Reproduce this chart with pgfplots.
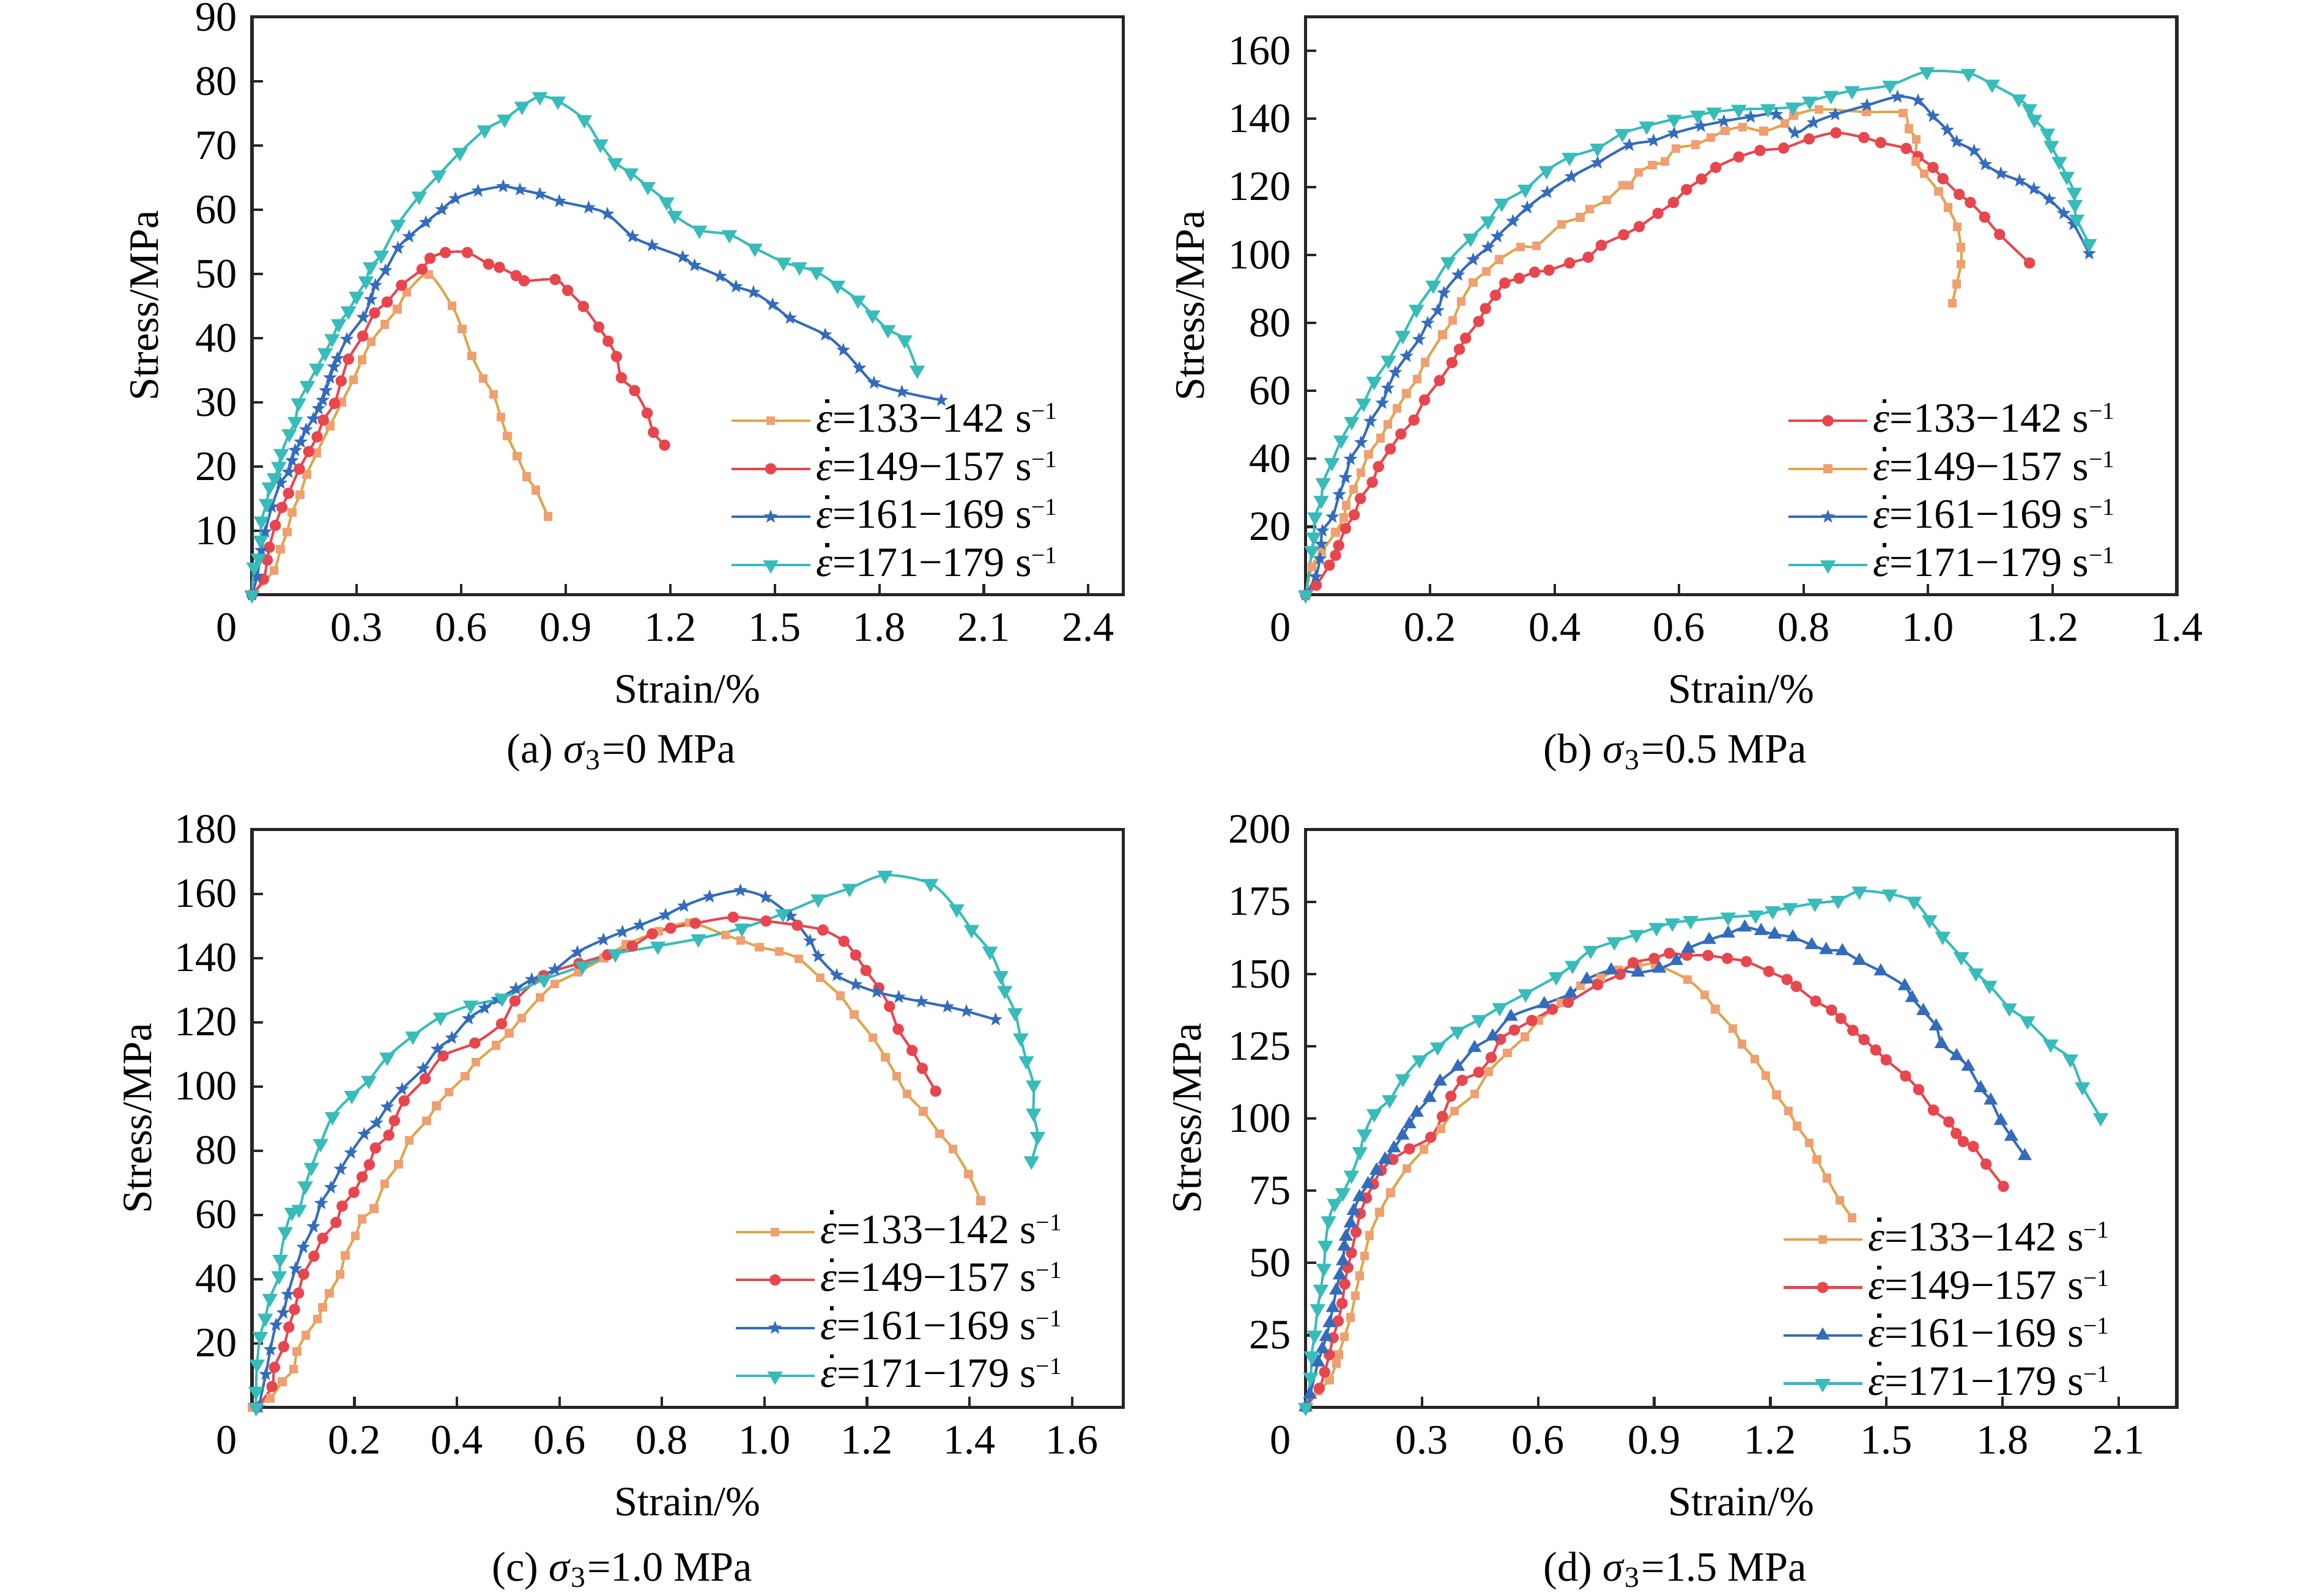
\documentclass[border=0pt]{standalone}
\usepackage{fontspec}
\setmainfont{Liberation Serif}
\usepackage{pgfplots}
\pgfplotsset{compat=1.18}
\definecolor{orgl}{RGB}{222,166,74}
\definecolor{orgm}{RGB}{240,160,112}
\definecolor{redc}{RGB}{232,70,78}
\definecolor{bluec}{RGB}{52,108,188}
\definecolor{tealc}{RGB}{56,188,186}
\pgfdeclareplotmark{fstar}{%
  \pgfpathmoveto{\pgfpointpolar{90}{\pgfplotmarksize}}%
  \pgfpathlineto{\pgfpointpolar{126}{0.42\pgfplotmarksize}}%
  \pgfpathlineto{\pgfpointpolar{162}{\pgfplotmarksize}}%
  \pgfpathlineto{\pgfpointpolar{198}{0.42\pgfplotmarksize}}%
  \pgfpathlineto{\pgfpointpolar{234}{\pgfplotmarksize}}%
  \pgfpathlineto{\pgfpointpolar{270}{0.42\pgfplotmarksize}}%
  \pgfpathlineto{\pgfpointpolar{306}{\pgfplotmarksize}}%
  \pgfpathlineto{\pgfpointpolar{342}{0.42\pgfplotmarksize}}%
  \pgfpathlineto{\pgfpointpolar{18}{\pgfplotmarksize}}%
  \pgfpathlineto{\pgfpointpolar{54}{0.42\pgfplotmarksize}}%
  \pgfpathclose\pgfusepathqfillstroke}
\pgfplotsset{
  panel/.style={
    scale only axis, width=208.7pt, height=138.45pt,
    clip=false,
    axis line style={line width=0.8pt, black!85},
    tick style={line width=0.6pt, black!85},
    tick align=inside, xtick pos=bottom, ytick pos=left,
    major tick length=2.6pt,
    tick label style={font=\fontsize{10}{12}\selectfont},
    /pgf/number format/assume math mode=true,
    scaled ticks=false,
    xticklabel style={yshift=-1pt},
    xlabel={Strain/\%},
    ylabel={Stress/MPa},
    label style={font=\fontsize{10}{12}\selectfont},
    xlabel style={at={(axis description cs:0.5,-0.164)}, anchor=center},
    legend cell align=left,
    legend style={draw=none, fill=none, anchor=west, inner sep=0pt,
      font=\fontsize{10}{12}\selectfont,
      nodes={inner sep=1.2pt, text height=7pt, text depth=1.5pt},
      row sep=0.6pt},
    legend image code/.code={\draw[mark repeat=2,mark phase=2] plot coordinates {(0cm,0cm) (0.33cm,0cm) (0.66cm,0cm)};},
  },
  sorg/.style={color=orgl, line width=0.6pt, smooth, tension=0.5, mark=square*, mark size=0.95pt, mark options={fill=orgm, draw=orgm, line width=0.2pt}},
  sred/.style={color=redc, line width=0.6pt, smooth, tension=0.5, mark=*, mark size=1.05pt, mark options={fill=redc, draw=redc}},
  sblue/.style={color=bluec, line width=0.6pt, smooth, tension=0.5, mark=fstar, mark size=1.45pt, mark options={fill=bluec, draw=bluec, line width=0.2pt}},
  sbluet/.style={color=bluec, line width=0.6pt, smooth, tension=0.5, mark=triangle*, mark size=1.35pt, mark options={fill=bluec, draw=bluec}},
  steal/.style={color=tealc, line width=0.6pt, smooth, tension=0.5, mark=triangle*, mark size=1.55pt, mark options={fill=tealc, draw=tealc, rotate=180}},
}
\newcommand{\edot}{\makebox[0pt][l]{\hspace{2.2pt}\raisebox{7.0pt}{\rule{0.95pt}{0.95pt}}}\textit{ε}}
\newcommand{\rate}[2]{\edot=#1−#2 s\raisebox{3.1pt}{\fontsize{5.8}{6}\selectfont −1}}
\newcommand{\zerolab}{\node[anchor=north east, inner sep=0pt, xshift=-3.4pt, yshift=-4.3pt, font=\fontsize{10}{12}\selectfont] at (rel axis cs:0,0) {0};}
\begin{document}
\begin{tikzpicture}
\path[use as bounding box] (-60.35pt,142.5pt) rectangle (493.45pt,-239.8pt);

% ---------------- (a)
\begin{axis}[panel, at={(0pt,0pt)}, anchor=south west,
  xmin=0, xmax=2.5, ymin=0, ymax=90,
  xtick={0,0.3,0.6,0.9,1.2,1.5,1.8,2.1,2.4},
  xticklabels={,0.3,0.6,0.9,1.2,1.5,1.8,2.1,2.4},
  ytick={10,20,...,90},
  ylabel style={at={(axis description cs:-0.123,0.5)}, anchor=center},
  legend style={at={(0.548,0.1765)}}]
\addplot[sorg] coordinates {(0,0) (0.063,3.8) (0.082,7.1) (0.101,9.8) (0.115,12.8) (0.138,15.6) (0.157,18.7) (0.186,22.1) (0.224,26.3) (0.258,30.0) (0.291,33.5) (0.316,36.6) (0.342,39.4) (0.381,42.1) (0.417,44.5) (0.444,47.1) (0.507,49.9) (0.574,45.0) (0.603,41.4) (0.631,37.2) (0.664,33.7) (0.693,31.2) (0.714,27.7) (0.733,24.7) (0.761,21.6) (0.788,18.4) (0.815,16.3) (0.849,12.2)};
\addlegendentry{\rate{133}{142}}
\addplot[sred] coordinates {(0,0) (0.033,2.4) (0.044,5.4) (0.050,7.4) (0.067,10.8) (0.086,13.6) (0.105,15.8) (0.136,19.6) (0.163,22.3) (0.187,24.6) (0.205,27.2) (0.237,29.8) (0.256,33.3) (0.277,36.7) (0.318,40.3) (0.352,43.9) (0.388,45.6) (0.429,48.2) (0.488,50.7) (0.511,52.4) (0.555,53.3) (0.618,53.3) (0.679,51.5) (0.710,51.0) (0.758,49.7) (0.781,48.9) (0.870,49.1) (0.906,47.4) (0.951,44.9) (0.995,41.7) (1.022,39.5) (1.046,37.1) (1.060,33.8) (1.098,31.8) (1.134,28.3) (1.152,25.3) (1.184,23.3)};
\addlegendentry{\rate{149}{157}}
\addplot[sblue] coordinates {(0,0) (0.015,2.9) (0.027,6.9) (0.038,9.8) (0.057,13.7) (0.082,17.4) (0.105,19.1) (0.115,20.9) (0.124,22.5) (0.140,23.8) (0.155,25.7) (0.176,27.4) (0.191,29.0) (0.203,30.3) (0.212,31.8) (0.224,33.8) (0.235,35.5) (0.245,36.8) (0.272,39.8) (0.319,43.2) (0.341,46.0) (0.354,48.2) (0.383,50.5) (0.419,54.0) (0.451,55.8) (0.499,58.0) (0.545,60.0) (0.584,61.7) (0.649,62.9) (0.721,63.6) (0.769,63.1) (0.826,62.4) (0.882,61.3) (0.966,60.3) (1.020,59.3) (1.092,55.8) (1.148,54.4) (1.236,52.6) (1.270,51.3) (1.343,49.6) (1.389,48.0) (1.439,47.1) (1.494,45.2) (1.544,43.1) (1.645,40.5) (1.697,38.1) (1.743,35.3) (1.785,33.0) (1.865,31.6) (1.978,30.3)};
\addlegendentry{\rate{161}{169}}
\addplot[steal] coordinates {(0,0) (0.006,4.3) (0.019,5.7) (0.025,8.5) (0.027,11.5) (0.042,14.2) (0.050,16.8) (0.065,18.2) (0.077,20.0) (0.084,22.0) (0.107,25.1) (0.124,27.0) (0.134,29.9) (0.159,32.6) (0.186,35.3) (0.210,37.7) (0.230,39.9) (0.249,42.2) (0.277,44.2) (0.300,46.5) (0.327,48.9) (0.340,51.1) (0.371,52.9) (0.419,57.7) (0.480,62.1) (0.536,65.4) (0.597,68.9) (0.668,72.4) (0.725,74.1) (0.775,76.1) (0.826,77.6) (0.878,76.9) (0.954,74.0) (1.000,70.2) (1.042,67.3) (1.087,65.7) (1.136,63.6) (1.190,61.2) (1.213,59.1) (1.284,56.8) (1.370,56.1) (1.443,54.0) (1.525,51.8) (1.571,51.1) (1.620,50.3) (1.680,48.2) (1.739,45.9) (1.781,43.6) (1.825,41.3) (1.873,39.7) (1.909,35.0)};
\addlegendentry{\rate{171}{179}}
\zerolab
\node[font=\fontsize{10}{12}\selectfont] at (axis description cs:0.424,-0.274) {(a) \textit{σ}\textsubscript{3}=0 MPa};
\end{axis}

% ---------------- (b)
\begin{axis}[panel, at={(252.4pt,0pt)}, anchor=south west,
  xmin=0, xmax=1.4, ymin=0, ymax=170,
  xtick={0,0.2,...,1.4},
  xticklabels={,0.2,0.4,0.6,0.8,1.0,1.2,1.4},
  ytick={20,40,...,160},
  ylabel style={at={(axis description cs:-0.132,0.5)}, anchor=center},
  legend style={at={(0.552,0.1765)}}]
\addplot[sred] coordinates {(0,0) (0.017,2.8) (0.038,8.7) (0.048,11.6) (0.053,14.5) (0.064,19.5) (0.078,23.5) (0.088,28.3) (0.107,33.1) (0.117,37.7) (0.136,42.9) (0.153,47.3) (0.174,51.4) (0.191,57.3) (0.215,63.0) (0.235,68.3) (0.247,72.2) (0.257,75.5) (0.278,80.4) (0.289,84.2) (0.305,88.1) (0.320,91.7) (0.343,93.1) (0.368,94.9) (0.391,95.5) (0.424,97.6) (0.454,99.3) (0.475,102.8) (0.511,105.9) (0.536,108.3) (0.566,112.2) (0.591,115.4) (0.612,119.2) (0.636,122.3) (0.659,125.7) (0.696,128.8) (0.730,130.7) (0.768,131.4) (0.809,134.1) (0.852,135.9) (0.897,134.5) (0.924,133.0) (0.965,131.3) (0.984,128.9) (1.008,125.7) (1.024,122.4) (1.050,117.8) (1.068,115.4) (1.091,111.1) (1.115,106.0) (1.163,97.6)};
\addlegendentry{\rate{133}{142}}
\addplot[sorg] coordinates {(0,0) (0.010,8.2) (0.026,12.7) (0.048,18.4) (0.061,22.7) (0.065,26.3) (0.077,31.1) (0.089,35.9) (0.101,41.3) (0.120,46.1) (0.132,50.1) (0.147,54.8) (0.162,59.2) (0.179,63.4) (0.192,68.4) (0.220,76.5) (0.236,80.7) (0.250,86.3) (0.269,91.9) (0.290,95.1) (0.311,98.6) (0.345,102.3) (0.371,102.7) (0.411,109.0) (0.441,111.0) (0.456,113.5) (0.484,116.1) (0.510,120.5) (0.520,120.5) (0.535,124.2) (0.557,126.4) (0.577,127.5) (0.595,131.3) (0.626,132.4) (0.651,134.5) (0.674,136.5) (0.702,137.6) (0.736,136.4) (0.770,138.6) (0.784,141.0) (0.825,142.8) (0.901,142.0) (0.960,141.7) (0.969,137.1) (0.981,133.9) (0.980,127.5) (0.994,123.9) (1.017,118.7) (1.032,113.9) (1.047,108.2) (1.053,102.2) (1.053,97.3) (1.046,91.4) (1.039,85.7)};
\addlegendentry{\rate{149}{157}}
\addplot[sblue] coordinates {(0,0) (0.016,5.3) (0.023,10.6) (0.025,14.9) (0.027,18.8) (0.043,22.9) (0.054,29.5) (0.064,34.5) (0.072,39.9) (0.089,44.8) (0.104,51.0) (0.123,56.4) (0.132,60.8) (0.144,65.4) (0.162,70.2) (0.182,75.1) (0.196,79.9) (0.212,83.6) (0.222,88.8) (0.245,94.1) (0.269,98.6) (0.293,102.2) (0.308,105.4) (0.333,109.9) (0.356,113.9) (0.388,118.4) (0.427,123.0) (0.469,127.1) (0.520,132.3) (0.559,133.6) (0.592,135.8) (0.635,137.9) (0.672,139.3) (0.715,140.6) (0.756,141.3) (0.786,135.9) (0.816,138.9) (0.851,141.3) (0.902,144.0) (0.951,146.5) (0.984,145.4) (1.008,140.8) (1.031,136.7) (1.046,133.3) (1.074,130.6) (1.092,126.6) (1.117,123.9) (1.147,121.8) (1.170,119.4) (1.195,116.3) (1.218,112.2) (1.234,109.0) (1.259,100.4)};
\addlegendentry{\rate{161}{169}}
\addplot[steal] coordinates {(0,0) (0.010,13.0) (0.013,17.0) (0.015,22.9) (0.025,27.8) (0.028,33.0) (0.042,38.9) (0.057,45.5) (0.074,51.0) (0.093,56.4) (0.110,62.8) (0.133,69.0) (0.156,76.3) (0.178,84.0) (0.205,91.1) (0.229,98.0) (0.265,104.9) (0.293,110.0) (0.315,115.2) (0.353,119.3) (0.387,124.8) (0.424,128.7) (0.469,131.4) (0.509,135.7) (0.548,137.9) (0.592,139.9) (0.630,141.1) (0.656,142.0) (0.696,142.8) (0.743,143.0) (0.783,143.5) (0.810,145.2) (0.844,146.9) (0.878,148.3) (0.939,149.9) (0.998,153.9) (1.065,153.4) (1.103,150.2) (1.146,145.9) (1.163,143.0) (1.171,139.9) (1.192,135.8) (1.198,132.2) (1.211,127.5) (1.223,123.1) (1.235,118.4) (1.236,114.8) (1.239,110.5) (1.259,103.3)};
\addlegendentry{\rate{171}{179}}
\zerolab
\node[font=\fontsize{10}{12}\selectfont] at (axis description cs:0.424,-0.274) {(b) \textit{σ}\textsubscript{3}=0.5 MPa};
\end{axis}

% ---------------- (c)
\begin{axis}[panel, at={(0pt,-194.7pt)}, anchor=south west,
  xmin=0, xmax=1.7, ymin=0, ymax=180,
  xtick={0,0.2,...,1.6},
  xticklabels={,0.2,0.4,0.6,0.8,1.0,1.2,1.4,1.6},
  ytick={20,40,...,180},
  ylabel style={at={(axis description cs:-0.131,0.5)}, anchor=center},
  legend style={at={(0.553,0.179)}}]
\addplot[sorg] coordinates {(0,0) (0.036,2.9) (0.059,8.0) (0.081,11.9) (0.088,17.5) (0.105,22.5) (0.128,27.5) (0.138,31.2) (0.151,35.6) (0.172,41.5) (0.182,47.4) (0.202,53.5) (0.215,58.7) (0.238,61.9) (0.259,69.7) (0.286,75.7) (0.307,83.1) (0.341,89.3) (0.360,93.9) (0.384,98.2) (0.416,103.2) (0.437,107.5) (0.476,112.8) (0.502,116.6) (0.526,121.3) (0.562,127.7) (0.591,131.9) (0.636,135.5) (0.687,140.0) (0.730,144.2) (0.794,148.3) (0.854,151.0) (0.924,147.1) (0.954,145.5) (0.990,143.4) (1.029,142.0) (1.067,139.7) (1.109,133.8) (1.148,128.2) (1.175,122.4) (1.211,115.2) (1.236,109.1) (1.258,103.1) (1.278,97.6) (1.310,92.2) (1.342,85.3) (1.368,80.5) (1.398,72.7) (1.422,64.4)};
\addlegendentry{\rate{133}{142}}
\addplot[sred] coordinates {(0.010,0) (0.039,6.5) (0.044,12.5) (0.062,18.9) (0.072,25.0) (0.083,30.5) (0.091,35.6) (0.101,41.5) (0.121,47.1) (0.138,52.7) (0.164,57.6) (0.176,62.7) (0.199,67.0) (0.215,71.8) (0.229,75.6) (0.241,80.8) (0.267,84.8) (0.278,89.3) (0.297,95.5) (0.338,102.4) (0.373,109.5) (0.435,113.5) (0.487,119.5) (0.513,126.6) (0.569,134.5) (0.638,138.3) (0.694,141.0) (0.742,143.7) (0.781,147.5) (0.817,149.3) (0.865,150.8) (0.939,152.7) (1.003,151.5) (1.064,150.2) (1.114,148.7) (1.155,145.2) (1.178,140.9) (1.198,136.1) (1.223,130.7) (1.244,124.9) (1.261,117.8) (1.288,111.2) (1.308,105.6) (1.334,98.5)};
\addlegendentry{\rate{149}{157}}
\addplot[sblue] coordinates {(0.013,0) (0.027,10.3) (0.036,18.0) (0.047,25.7) (0.061,29.5) (0.070,35.2) (0.085,43.2) (0.100,49.9) (0.120,56.3) (0.135,63.6) (0.154,68.5) (0.173,74.2) (0.193,79.3) (0.219,85.1) (0.243,88.6) (0.264,93.6) (0.293,99.1) (0.334,105.5) (0.362,111.6) (0.390,115.1) (0.423,121.1) (0.454,124.4) (0.479,127.1) (0.515,130.4) (0.546,133.3) (0.591,136.4) (0.635,141.8) (0.686,145.7) (0.723,148.1) (0.757,150.2) (0.807,153.4) (0.843,156.2) (0.893,159.1) (0.953,161.0) (1.002,158.9) (1.051,153.0) (1.089,145.3) (1.105,140.5) (1.141,134.6) (1.178,131.7) (1.219,129.4) (1.262,127.8) (1.306,126.4) (1.357,124.8) (1.394,123.4) (1.451,120.8)};
\addlegendentry{\rate{161}{169}}
\addplot[steal] coordinates {(0.008,0) (0.008,5.0) (0.010,13.5) (0.016,22.1) (0.026,27.8) (0.035,34.0) (0.053,41.0) (0.055,46.1) (0.065,54.8) (0.078,60.8) (0.092,61.7) (0.104,69.0) (0.116,74.8) (0.134,82.2) (0.157,90.6) (0.195,97.2) (0.228,101.9) (0.264,109.1) (0.314,115.7) (0.368,121.6) (0.427,125.3) (0.488,127.5) (0.570,133.3) (0.645,137.5) (0.709,141.3) (0.792,143.7) (0.871,146.0) (0.956,149.3) (1.036,153.8) (1.105,158.4) (1.166,161.7) (1.235,165.8) (1.324,163.2) (1.375,155.3) (1.404,148.9) (1.440,142.1) (1.461,134.5) (1.469,129.9) (1.489,123.0) (1.500,115.1) (1.511,108.0) (1.525,100.4) (1.525,91.7) (1.533,84.4) (1.521,76.8)};
\addlegendentry{\rate{171}{179}}
\zerolab
\node[font=\fontsize{10}{12}\selectfont] at (axis description cs:0.425,-0.283) {(c) \textit{σ}\textsubscript{3}=1.0 MPa};
\end{axis}

% ---------------- (d)
\begin{axis}[panel, at={(252.4pt,-194.7pt)}, anchor=south west,
  xmin=0, xmax=2.25, ymin=0, ymax=200,
  xtick={0,0.3,0.6,0.9,1.2,1.5,1.8,2.1},
  xticklabels={,0.3,0.6,0.9,1.2,1.5,1.8,2.1},
  ytick={25,50,...,200},
  ylabel style={at={(axis description cs:-0.136,0.5)}, anchor=center},
  legend style={at={(0.546,0.166)}}]
\addplot[sorg] coordinates {(0,0) (0.032,5.6) (0.061,9.5) (0.079,15.1) (0.085,18.2) (0.100,24.4) (0.116,31.1) (0.128,38.7) (0.139,45.5) (0.152,52.4) (0.165,59.5) (0.191,67.5) (0.219,74.3) (0.261,82.6) (0.305,89.3) (0.349,96.4) (0.384,102.6) (0.436,108.5) (0.473,116.2) (0.521,122.7) (0.566,128.3) (0.602,133.9) (0.659,140.0) (0.710,146.0) (0.762,148.7) (0.808,151.5) (0.858,152.7) (0.902,153.3) (0.986,148.1) (1.030,142.8) (1.058,137.8) (1.103,131.1) (1.127,125.7) (1.160,120.5) (1.188,114.9) (1.216,108.2) (1.247,102.5) (1.269,97.4) (1.300,91.6) (1.320,85.9) (1.346,79.4) (1.379,71.7) (1.411,65.6)};
\addlegendentry{\rate{133}{142}}
\addplot[sred] coordinates {(0,0) (0.035,6.6) (0.049,12.2) (0.061,18.2) (0.071,24.1) (0.084,29.9) (0.094,36.0) (0.101,42.7) (0.109,48.4) (0.118,53.5) (0.130,60.7) (0.141,67.1) (0.157,72.5) (0.175,77.3) (0.195,82.0) (0.225,85.8) (0.268,89.5) (0.323,93.5) (0.353,100.7) (0.375,107.7) (0.404,113.2) (0.447,116.0) (0.479,121.1) (0.503,127.4) (0.539,130.6) (0.584,133.9) (0.637,137.8) (0.678,140.2) (0.754,146.3) (0.812,149.9) (0.846,153.9) (0.900,155.4) (0.939,157.2) (0.985,156.5) (1.039,156.4) (1.089,155.4) (1.138,154.3) (1.196,150.9) (1.243,148.1) (1.267,145.7) (1.317,140.6) (1.358,137.5) (1.382,134.6) (1.413,130.5) (1.442,127.3) (1.472,123.7) (1.499,120.3) (1.549,114.7) (1.583,110.0) (1.621,102.9) (1.661,98.8) (1.680,94.8) (1.698,92.0) (1.724,90.3) (1.757,84.2) (1.802,76.5)};
\addlegendentry{\rate{149}{157}}
\addplot[sbluet] coordinates {(0,0) (0.011,4.4) (0.032,15.6) (0.043,20.2) (0.053,24.4) (0.062,29.2) (0.070,34.4) (0.079,40.5) (0.088,45.7) (0.096,50.6) (0.100,55.7) (0.104,59.1) (0.116,63.7) (0.124,68.0) (0.139,72.8) (0.161,77.3) (0.183,82.0) (0.205,85.8) (0.228,89.7) (0.250,94.1) (0.268,98.0) (0.287,102.0) (0.320,107.1) (0.347,112.8) (0.393,117.9) (0.436,124.4) (0.483,128.4) (0.530,135.2) (0.616,139.6) (0.684,143.2) (0.726,148.1) (0.789,151.3) (0.858,150.5) (0.913,151.9) (0.957,154.5) (0.988,158.8) (1.042,161.8) (1.091,164.0) (1.134,166.1) (1.176,164.9) (1.211,163.7) (1.258,162.7) (1.307,160.0) (1.344,158.3) (1.386,157.9) (1.430,154.6) (1.485,150.9) (1.547,145.8) (1.566,141.7) (1.595,137.2) (1.628,131.9) (1.642,125.8) (1.681,121.6) (1.711,117.9) (1.743,110.5) (1.769,106.2) (1.795,99.2) (1.822,93.7) (1.857,87.0)};
\addlegendentry{\rate{161}{169}}
\addplot[steal] coordinates {(0,0) (0.013,10.5) (0.015,17.8) (0.023,25.0) (0.031,34.2) (0.039,40.9) (0.047,48.2) (0.051,56.1) (0.059,64.6) (0.075,70.6) (0.096,74.3) (0.118,80.4) (0.140,88.5) (0.152,94.7) (0.177,101.7) (0.217,106.5) (0.251,113.8) (0.294,120.3) (0.341,124.8) (0.392,130.2) (0.448,134.2) (0.501,138.4) (0.568,143.2) (0.647,149.1) (0.689,153.0) (0.736,158.2) (0.797,161.2) (0.854,163.7) (0.906,166.1) (0.947,167.7) (0.994,168.5) (1.091,169.7) (1.162,170.4) (1.206,171.9) (1.251,173.0) (1.315,174.5) (1.375,175.5) (1.430,178.7) (1.508,177.7) (1.571,175.2) (1.611,168.8) (1.645,163.1) (1.693,156.0) (1.731,150.4) (1.766,146.1) (1.817,138.3) (1.864,133.8) (1.924,125.8) (1.975,120.6) (2.006,111.0) (2.053,100.3)};
\addlegendentry{\rate{171}{179}}
\zerolab
\node[font=\fontsize{10}{12}\selectfont] at (axis description cs:0.424,-0.283) {(d) \textit{σ}\textsubscript{3}=1.5 MPa};
\end{axis}
\end{tikzpicture}
\end{document}
